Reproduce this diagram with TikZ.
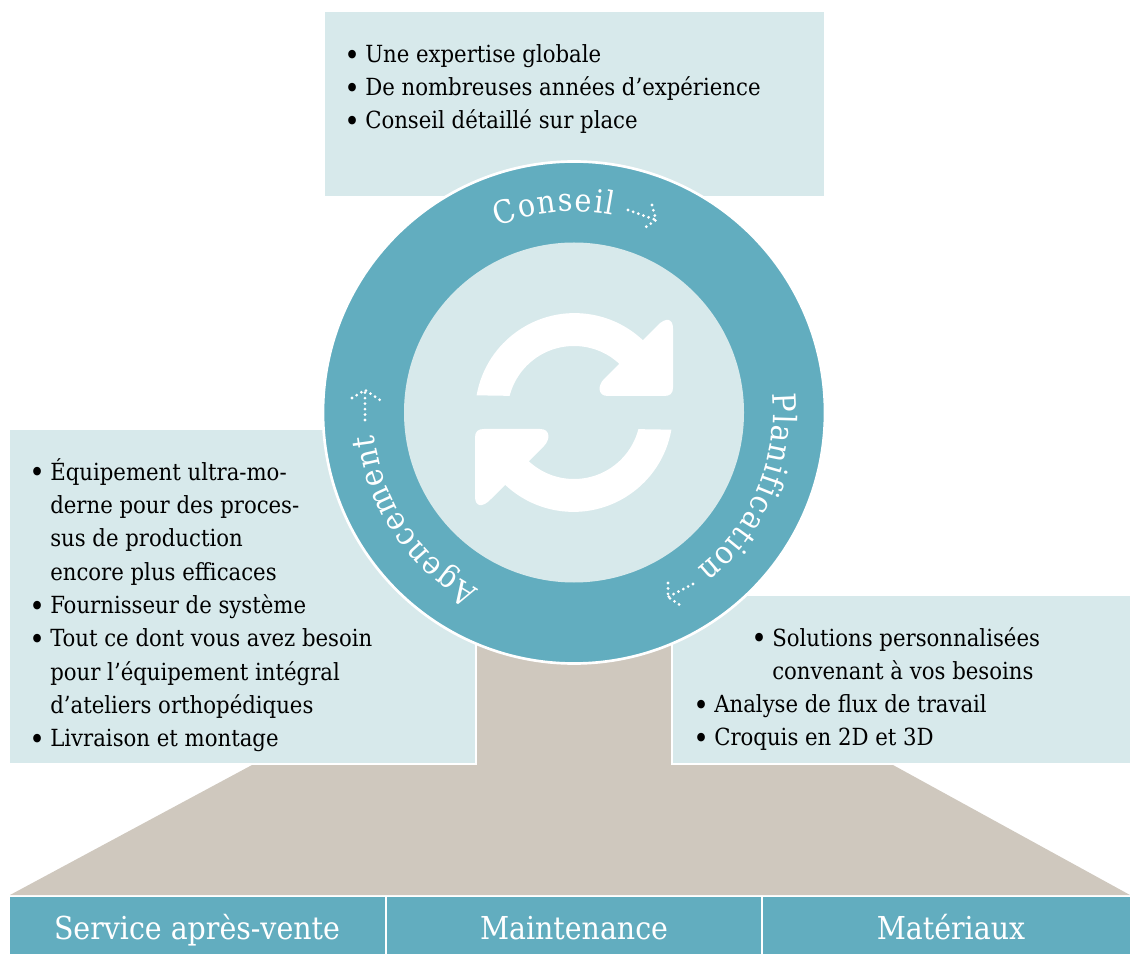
\documentclass[tikz,border=0pt]{standalone}
\usepackage{fontspec}
\setmainfont{DejaVu Serif Condensed}
\usetikzlibrary{decorations.text}
\definecolor{ringblue}{HTML}{62ADBF}
\definecolor{paleblue}{HTML}{D7E9EB}
\definecolor{taupe}{HTML}{CFC8BE}
\newcommand{\bul}{\llap{\raisebox{-0.12em}{\fontsize{22pt}{25pt}\selectfont •}\hspace{4pt}}}
\newcommand{\bodyfont}{\fontsize{17.7pt}{25pt}\selectfont}
\newcommand{\barfont}{\fontsize{23.7pt}{28pt}\selectfont}
\tikzset{
  panel/.style={fill=paleblue,draw=white,line width=1.5pt},
  listtext/.style={anchor=north west,inner sep=0pt,align=left,text=black,font=\bodyfont},
  barlabel/.style={anchor=base,inner sep=0pt,text=white,font=\barfont},
  dotarrow/.style={draw=white,line width=2.3pt,line cap=round,dash pattern=on 0pt off 4.1pt},
  ringtext/.style={decorate,decoration={text along path,text color=white,text align={fit to path},
     text={|\fontsize{24pt}{28pt}\selectfont|#1}}}
}
\begin{document}
\begin{tikzpicture}[x=0.75pt,y=0.75pt]
\useasboundingbox (0,0) rectangle (1130,954);
\coordinate (c) at (574,541.5);
% taupe base
\fill[taupe] (477,320) -- (671,320) -- (671,189) -- (893,189) -- (1130,59) -- (10,59) -- (252,189) -- (477,189) -- cycle;
% panels
\fill[paleblue] (325,758) rectangle (824,942);
\path[panel] (9,525) -- (476,525) -- (476,190) -- (9,190) -- cycle;
\path[panel] (672,359) -- (1131,359) -- (1131,190) -- (672,190) -- cycle;
% ring
\fill[ringblue,draw=white,line width=2pt] (c) circle[radius=251];
\fill[paleblue] (c) circle[radius=170];
% sync icon
\begin{scope}[shift={(c)}]
 \foreach \r in {0,180}{
  \begin{scope}[rotate=\r]
   \fill[white] (170:98.9) arc[start angle=170,end angle=46,radius=99.5] -- (46:66.5) arc[start angle=46,end angle=165.5,radius=66.5] -- cycle;
   \fill[white] (83,86.5) .. controls (92,96) and (99,94) .. (99,84) -- (99,25) .. controls (99,19) and (96,16.5) .. (90,16.5) -- (34,16.5) .. controls (23,16.5) and (24,27.5) .. (30,33.5) -- cycle;
  \end{scope}
 }
\end{scope}
% ring labels
\path[ringtext=Conseil] ([shift={(112.3:201)}]c) arc[start angle=112.3,end angle=78.8,radius=201];
\path[ringtext=Planification] ([shift={(5.5:199)}]c) arc[start angle=5.5,end angle=-51.7,radius=199];
\path[ringtext=Agencement] ([shift={(241.6:201)}]c) arc[start angle=241.6,end angle=186.5,radius=201];
% dotted arrows
\coordinate (a1) at (628,744); \coordinate (a2) at (656,734);
\coordinate (a3) at (652,749); \coordinate (a4) at (643,725);
\draw[dotarrow] (a1) -- (a2); \draw[dotarrow] (a3) -- (a2) -- (a4);
\coordinate (b1) at (693,370); \coordinate (b2) at (668,357);
\coordinate (b3) at (668,371); \coordinate (b4) at (683,347);
\draw[dotarrow] (b1) -- (b2); \draw[dotarrow] (b3) -- (b2) -- (b4);
\coordinate (d1) at (365,534); \coordinate (d2) at (365,564);
\coordinate (d3) at (352,556); \coordinate (d4) at (380,554);
\draw[dotarrow] (d1) -- (d2); \draw[dotarrow] (d3) -- (d2) -- (d4);
% lists
\node[listtext] (topl) at (365,910) {\bul Une expertise globale\\\bul De nombreuses années d’expérience\\\bul Conseil détaillé sur place};
\node[listtext] (left) at (50,496) {\bul Équipement ultra-mo-\\derne pour des proces-\\sus de production\\encore plus efficaces\\\bul Fournisseur de système\\\bul Tout ce dont vous avez besoin\\pour l’équipement intégral\\d’ateliers orthopédiques\\\bul Livraison et montage};
\node[listtext] (rig1) at (772,327) {\bul Solutions personnalisées\\convenant à vos besoins};
\node[listtext] (rig2) at (714,260) {\bul Analyse de flux de travail\\\bul Croquis en 2D et 3D};
% bottom bar
\fill[ringblue] (10,0) rectangle (1130,57);
\draw[white,line width=1.5pt] (386,0) -- (386,57) (762,0) -- (762,57);
\node[barlabel] (s1) at (197,15) {Service après-vente};
\node[barlabel] (s2) at (574,15) {Maintenance};
\node[barlabel] (s3) at (951,15) {Matériaux};
\end{tikzpicture}
\end{document}
